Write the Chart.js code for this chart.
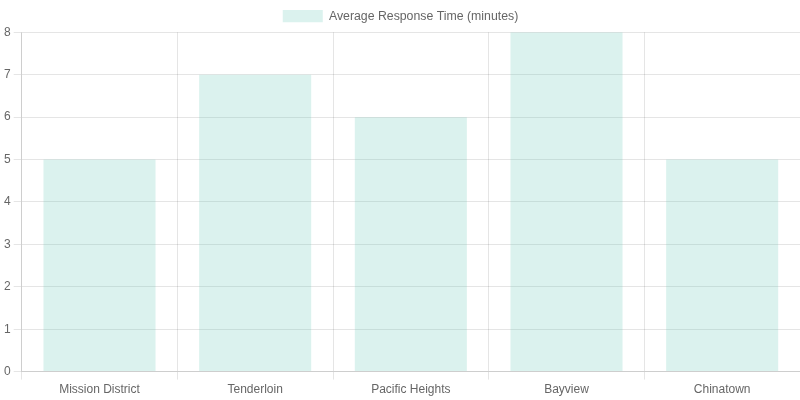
<!DOCTYPE html>
<html>
<head>
<meta charset="utf-8">
<script src="https://cdn.jsdelivr.net/npm/chart.js"></script>
<style>
html,body{margin:0;padding:0;background:#fff;}
#wrap{width:800px;height:400px;}
</style>
</head>
<body>
<div id="wrap"><canvas id="c"></canvas></div>
<script>
const categories = ["Mission District", "Tenderloin", "Pacific Heights", "Bayview", "Chinatown"];
const responseTimes = [5, 7, 6, 8, 5];
const seriesLabel = "Average Response Time (minutes)";

new Chart(document.getElementById('c'), {
  type: 'bar',
  data: {
    labels: categories,
    datasets: [{
      label: seriesLabel,
      data: responseTimes,
      backgroundColor: 'rgba(75,192,170,0.2)',
      borderWidth: 0
    }]
  },
  options: {
    responsive: true,
    maintainAspectRatio: false,
    animation: false,
    layout: { padding: { left: 1 } },
    plugins: {
      legend: { labels: { font: { size: 12.3 } } }
    },
    scales: {
      y: { beginAtZero: true }
    }
  }
});
</script>
</body>
</html>
